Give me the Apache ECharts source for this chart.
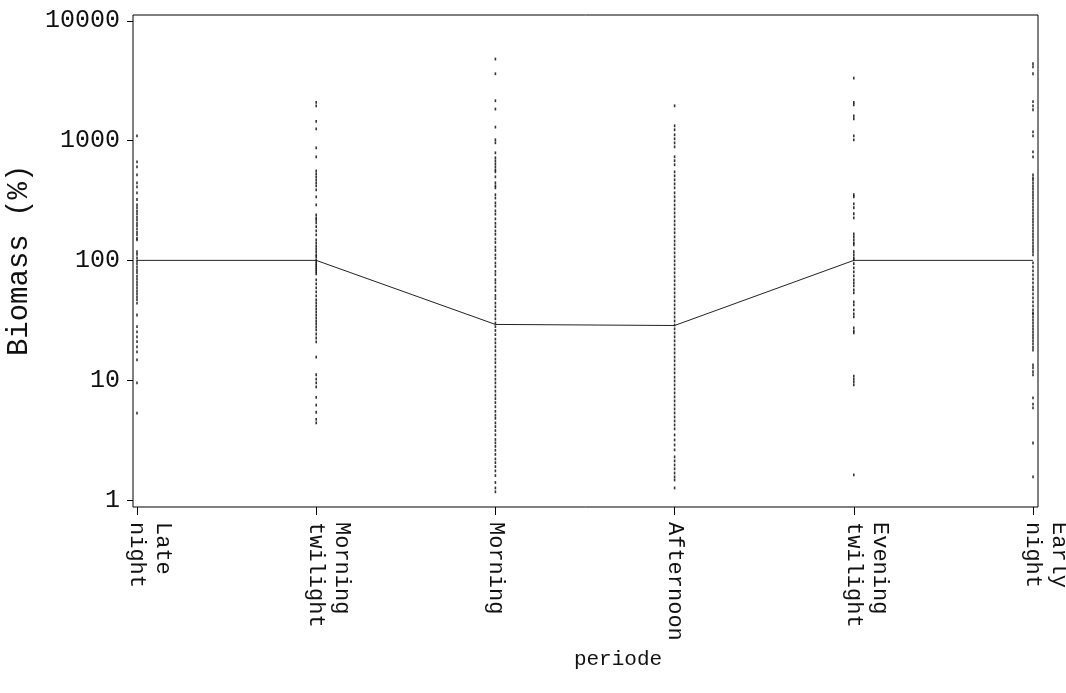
<!DOCTYPE html>
<html>
<head>
<meta charset="utf-8">
<title>Biomass by periode</title>
<script src="https://cdn.jsdelivr.net/npm/echarts@6/dist/echarts.min.js"></script>
<style>
  html, body { margin: 0; padding: 0; background: #fff; }
  #chart { width: 1066px; height: 693px; }
</style>
</head>
<body>
<div id="chart"></div>
<script>
// Periods of the day (x categories)
const periods = ['Late night', 'Morning twilight', 'Morning', 'Afternoon', 'Evening twilight', 'Early night'];

// Mean biomass (%) per period, drawn as the connecting line
const meanBiomass = [100, 100, 29.2, 28.6, 100, 100];

// Individual observations (%) per period
const lateNight = [1096, 665, 604, 518, 444, 410, 366, 322, 291, 276, 259, 246, 231, 219, 205, 195, 183, 172, 164, 153, 148,
  118, 112, 105, 99, 94, 88, 83, 79, 74, 70, 66, 62.5, 59, 55.5, 52.5, 49.5, 47, 44,
  35, 28, 25.3, 23, 21, 19, 17.2, 14.8, 9.5, 5.3];

const morningTwilight = [2080, 1950, 1443, 1253, 870, 732, 559, 528, 498, 470, 444, 419, 388, 339, 291,
  240, 226, 218, 206, 191, 176, 163, 148, 140, 132, 125, 118, 111, 107, 101,
  97, 93.5, 90, 86.6, 83.4, 80.2, 77.1, 68.7, 63.6, 58.9, 54.6, 50.5, 46.8,
  44.2, 41.7, 39.4, 37.2, 35.1, 33.1, 31.2, 29.5, 27.9, 26.3, 24.3, 22.5, 20.9,
  15.6, 11.1, 10.2, 9.5, 8.8, 7.2, 6.2, 5.4, 4.7, 4.4];

const morning = [4790, 3610, 2150, 1832, 1295, 1015, 958, 790, 718, 678, 640, 604, 570, 548, 498, 444, 419, 403,
  353, 331, 302, 284, 259, 243, 222, 204, 191, 176, 165, 151, 141, 129, 121, 111, 104,
  95, 89, 81, 76, 69, 65, 60, 56, 51, 48, 44, 41, 38, 35, 32.5, 30, 28, 26, 24, 22, 20.5,
  19, 17.6, 16.2, 15, 14, 12.9, 11.9, 11, 10.2, 9.5, 8.8, 8.1, 7.5, 7, 6.5, 6, 5.5, 5.1,
  4.8, 4.4, 4.1, 3.8, 3.5, 3.2, 3.0, 2.8, 2.6, 2.4, 2.2, 2.05, 1.9, 1.75, 1.6, 1.4, 1.26, 1.17];

const afternoon = [1950, 1328, 1230, 1117, 1034, 956, 886, 732, 679, 628, 548, 508, 470, 435, 403,
  366, 339, 314, 290, 269, 249, 231, 213, 198, 183, 170, 157, 145, 135, 125, 115.5, 107,
  99, 91.8, 85, 78.7, 72.9, 67.5, 62.5, 57.8, 53.5, 49.6, 45.9, 42.5, 39.4, 36.4, 33.7, 31.2,
  28.9, 26.8, 24.8, 23, 21.3, 19.7, 18.2, 16.9, 15.6, 14.5, 13.4, 12.4, 11.5, 10.6,
  9.86, 9.13, 8.45, 7.83, 7.25, 6.71, 6.21, 5.75, 5.33, 4.93, 4.57, 4.23, 3.92,
  3.49, 3.17, 2.88, 2.62, 2.29, 2.12, 1.96, 1.82, 1.68, 1.56, 1.47, 1.26];

const eveningTwilight = [3320, 2080, 1990, 1610, 1520, 1096, 1015, 353, 339, 296, 275, 245, 226,
  166, 157, 148, 140, 135, 118, 111, 105, 101, 93.8, 86.7, 80.3, 74.3, 68.7, 64.8, 61.3,
  56.8, 53.5, 45.1, 42.5, 38.6, 35.8, 33.7, 27.3, 25.8, 24.8, 10.8, 10.2, 9.67, 9.13, 1.62];

const earlyNight = [4380, 4130, 3610, 2110, 1950, 1807, 1183, 1096, 806, 732, 518, 488, 470,
  443, 419, 396, 373, 353, 333, 314, 296, 280, 264, 249, 235, 222, 210, 198, 187, 176, 166,
  157, 148, 140, 132, 125, 118, 111,
  95.2, 88.2, 81.6, 75.6, 70, 64.8, 60, 56.8, 52.5, 48.6, 45.1, 41.7, 38.6, 36.4,
  35.6, 33.6, 31.7, 29.9, 28.2, 26.6, 25.1, 23.7, 22.4, 21.2, 20, 18.8, 17.8,
  13.4, 12.7, 11.8, 11.1, 7.13, 6.31, 5.88, 2.99, 1.56];

// Decade ticks of the biomass axis
const yTicks = [1, 10, 100, 1000, 10000];

const observations = [lateNight, morningTwilight, morning, afternoon, eveningTwilight, earlyNight];
const scatterData = [];
observations.forEach((values, i) => values.forEach(v => scatterData.push([i, v])));

const monoFont = "'Liberation Mono', 'DejaVu Sans Mono', monospace";
const ink = '#111';

const chart = echarts.init(document.getElementById('chart'), null, { renderer: 'canvas' });
chart.setOption({
  animation: false,
  backgroundColor: '#fff',
  grid: [
    // data area
    { left: 137, right: 33, top: 15, bottom: 186, outerBoundsMode: 'none', containLabel: false },
    // decade tick labels
    { left: 133, right: 28, top: 20.75, bottom: 193, outerBoundsMode: 'none', containLabel: false },
    // plot frame
    { left: 133, right: 28, top: 15, bottom: 186, outerBoundsMode: 'none', containLabel: false,
      show: true, borderColor: '#000', borderWidth: 1, backgroundColor: 'transparent' }
  ],
  xAxis: [
    {
      gridIndex: 0,
      type: 'category',
      data: periods,
      boundaryGap: false,
      axisLine: { show: false },
      axisTick: { show: true, interval: 0, length: 8, lineStyle: { color: '#000', width: 1 } },
      axisLabel: {
        interval: 0,
        rotate: -90,
        margin: 15,
        fontFamily: monoFont,
        fontSize: 22,
        lineHeight: 26,
        color: ink,
        // two-word names wrap; the trailing empty line keeps the last line on the tick
        formatter: (name) => {
          const words = name.split(' ');
          return words.length > 1 ? words.join('\n') + '\n' : name;
        }
      },
      name: 'periode',
      nameLocation: 'middle',
      nameGap: 131,
      nameTextStyle: { fontFamily: monoFont, fontSize: 21, color: ink, padding: [0, 0, 0, 66] },
      splitLine: { show: false }
    },
    { gridIndex: 1, type: 'value', show: false, min: 0, max: 1 },
    { gridIndex: 2, type: 'value', show: false, min: 0, max: 1 }
  ],
  yAxis: [
    { gridIndex: 0, type: 'log', logBase: 10, min: 0.8741, max: 11167, show: false },
    {
      gridIndex: 1,
      type: 'log',
      logBase: 10,
      min: yTicks[0],
      max: yTicks[yTicks.length - 1],
      axisLine: { show: false },
      axisTick: { show: true, length: 6, lineStyle: { color: '#000', width: 1 } },
      splitLine: { show: false },
      axisLabel: {
        margin: 13,
        fontFamily: monoFont,
        fontSize: 25,
        color: ink,
        formatter: (v) => yTicks.includes(Math.round(v)) ? String(Math.round(v)) : ''
      },
      name: 'Biomass (%)',
      nameLocation: 'middle',
      nameGap: 94,
      nameTextStyle: { fontFamily: monoFont, fontSize: 29, color: ink }
    },
    { gridIndex: 2, type: 'value', show: false, min: 0, max: 1 }
  ],
  series: [
    {
      name: 'Observations',
      type: 'scatter',
      xAxisIndex: 0,
      yAxisIndex: 0,
      data: scatterData,
      symbol: 'rect',
      symbolSize: [1.6, 2.8],
      itemStyle: { color: '#000' },
      silent: true
    },
    {
      name: 'Mean',
      type: 'line',
      xAxisIndex: 0,
      yAxisIndex: 0,
      data: meanBiomass,
      symbol: 'none',
      lineStyle: { color: '#222', width: 1 },
      silent: true,
      z: 3
    }
  ]
});
</script>
</body>
</html>
